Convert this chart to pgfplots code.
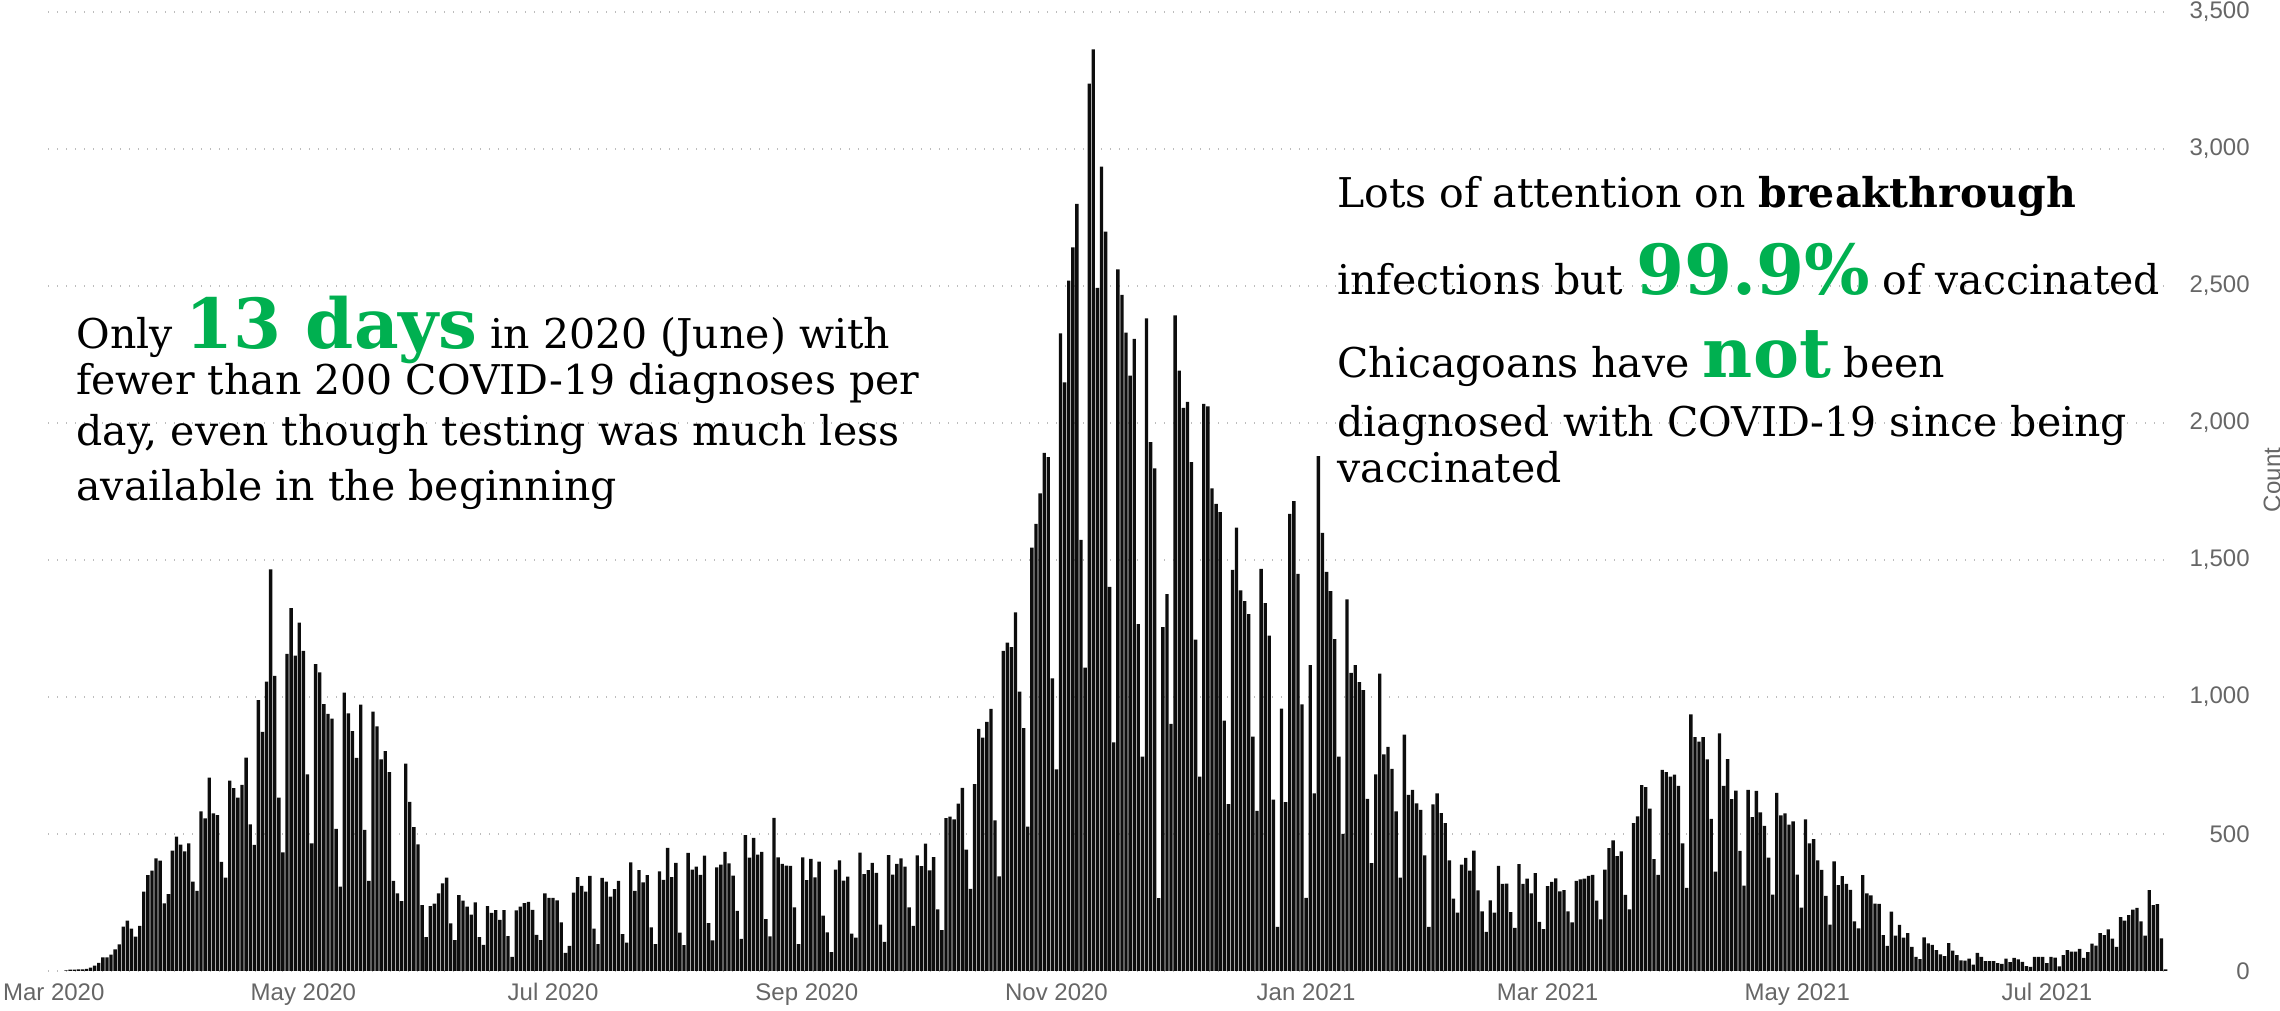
\documentclass[border=0pt]{standalone}
\usepackage{pgfplots}
\pgfplotsset{compat=1.18}
\usepackage{pgfplotstable}
\usepackage{fontspec}
\setmainfont{DejaVu Serif}
\newfontfamily\axisfont{Liberation Sans}
\definecolor{hlgreen}{HTML}{00B050}
\definecolor{tickgray}{HTML}{666666}
\definecolor{gridgray}{HTML}{BDBDBD}

% daily COVID-19 diagnoses, Chicago; first row = day 3 after 1 Mar 2020
% one line per week (Sunday first)
\pgfplotstableread[row sep=\\]{
n\\
2\\5\\5\\6\\
6\\8\\12\\20\\30\\50\\50\\
60\\79\\97\\162\\184\\155\\125\\
165\\290\\350\\366\\411\\403\\247\\
281\\439\\490\\461\\437\\466\\326\\
292\\583\\557\\706\\575\\569\\398\\
341\\695\\667\\633\\679\\779\\535\\
460\\989\\873\\1056\\1466\\1077\\633\\
433\\1157\\1324\\1151\\1271\\1168\\718\\
466\\1120\\1090\\974\\938\\921\\519\\
308\\1016\\940\\875\\778\\972\\515\\
329\\947\\893\\772\\802\\726\\329\\
283\\255\\757\\617\\525\\462\\240\\
124\\237\\246\\283\\320\\341\\174\\
113\\277\\257\\235\\206\\250\\124\\
95\\237\\212\\222\\187\\222\\127\\
52\\221\\235\\248\\252\\223\\132\\
113\\283\\267\\267\\258\\177\\66\\
92\\286\\343\\311\\290\\347\\155\\
98\\340\\326\\271\\299\\329\\135\\
104\\396\\292\\368\\323\\350\\159\\
98\\364\\333\\449\\343\\395\\140\\
94\\431\\370\\381\\351\\421\\175\\
112\\378\\388\\435\\393\\348\\219\\
117\\496\\414\\486\\425\\435\\189\\
126\\559\\415\\391\\385\\384\\232\\
98\\415\\332\\409\\342\\399\\202\\
141\\69\\370\\404\\330\\344\\136\\
122\\432\\354\\368\\395\\358\\169\\
106\\423\\352\\391\\411\\381\\232\\
165\\422\\383\\465\\367\\416\\225\\
149\\558\\563\\553\\611\\668\\443\\
300\\682\\884\\852\\909\\957\\550\\
345\\1168\\1198\\1182\\1309\\1020\\886\\
527\\1545\\1632\\1743\\1891\\1875\\1068\\
736\\2327\\2148\\2520\\2641\\2800\\1573\\
1107\\3239\\3364\\2493\\2936\\2698\\1402\\
834\\2561\\2468\\2330\\2173\\2307\\1266\\
782\\2382\\1930\\1834\\266\\1255\\1375\\
902\\2393\\2191\\2055\\2077\\1857\\1209\\
709\\2070\\2061\\1761\\1705\\1675\\914\\
609\\1464\\1618\\1389\\1350\\1302\\855\\
584\\1468\\1343\\1224\\625\\161\\958\\
616\\1668\\1715\\1449\\973\\267\\1116\\
648\\1879\\1599\\1457\\1386\\1211\\782\\
500\\1356\\1088\\1116\\1054\\1025\\628\\
394\\718\\1085\\791\\818\\738\\583\\
341\\863\\643\\661\\612\\588\\422\\
161\\608\\648\\576\\540\\404\\264\\
213\\388\\413\\366\\439\\294\\218\\
143\\258\\213\\384\\318\\319\\215\\
157\\390\\318\\337\\283\\357\\179\\
153\\310\\325\\338\\291\\295\\218\\
177\\329\\334\\337\\347\\351\\257\\
188\\370\\448\\477\\419\\437\\278\\
225\\540\\564\\678\\671\\593\\408\\
351\\734\\726\\709\\717\\676\\466\\
303\\937\\854\\837\\854\\772\\555\\
363\\867\\676\\773\\627\\658\\438\\
312\\661\\562\\657\\579\\530\\414\\
279\\650\\568\\575\\534\\546\\352\\
231\\553\\466\\481\\404\\369\\274\\
169\\400\\313\\346\\318\\296\\181\\
156\\350\\283\\276\\246\\245\\131\\
92\\217\\129\\168\\122\\138\\88\\
52\\43\\123\\101\\95\\76\\61\\
54\\102\\74\\58\\39\\38\\45\\
23\\66\\52\\36\\36\\36\\29\\
26\\45\\32\\48\\42\\33\\18\\
15\\52\\52\\52\\29\\52\\49\\
17\\58\\76\\71\\71\\81\\48\\
69\\100\\93\\138\\131\\152\\118\\
88\\197\\184\\204\\224\\230\\181\\
129\\295\\240\\244\\119\\6\\
}\cases

\newcommand\hl[1]{{\fontsize{34.5}{34.5}\selectfont\bfseries\color{hlgreen}#1}}

\begin{document}
\begin{tikzpicture}[x=0.5pt,y=0.5pt]
\useasboundingbox (0,0) rectangle (2280,1011);
\begin{axis}[
  at={(24pt,20pt)}, anchor=south west,
  scale only axis, width=1060pt, height=479.5pt,
  xmin=-1.4, xmax=516.6, ymin=0, ymax=3500,
  axis line style={draw=none},
  major tick length=0pt,
  scaled y ticks=false,
  ytick={0,500,...,3500},
  ymajorgrids,
  grid style={draw=gridgray, line width=0.9pt, dash pattern=on 0.7pt off 3.8pt},
  yticklabel pos=right,
  /pgf/number format/1000 sep={,},
  /pgf/number format/assume math mode=true,
  yticklabel style={anchor=east, xshift=41pt, inner sep=0pt,
    font=\axisfont\fontsize{12}{14}\selectfont, text=tickgray},
  xtick={0,61,122,184,245,306,365,426,487},
  xticklabels={Mar 2020,May 2020,Jul 2020,Sep 2020,Nov 2020,Jan 2021,Mar 2021,May 2021,Jul 2021},
  xticklabel style={anchor=north, yshift=-6pt, inner sep=0pt,
    font=\axisfont\fontsize{12}{14}\selectfont, text=tickgray},
]
\addplot[ybar, bar width=0.82, fill=black!95, draw=none]
  table[x expr=\coordindex+3, y=n] {\cases};
\end{axis}

\node[rotate=90, text=tickgray, font=\axisfont\fontsize{12}{14}\selectfont]
  at (2272,531) {Count};

% bottoms of the cut-off slide title
\node[anchor=base, inner sep=0pt, font=\axisfont\bfseries\fontsize{45}{45}\selectfont]
  at (491,1032) {g};
\node[anchor=base west, inner sep=0pt, font=\axisfont\bfseries\fontsize{45}{45}\selectfont]
  at (1319,1035) {p};

\begin{scope}[every node/.style={anchor=base west, inner sep=0pt,
    font=\fontsize{20.5}{24}\selectfont}]
\node at (76,662) {Only \hl{13 days} in 2020 (June) with};
\node at (76,616) {fewer than 200 COVID-19 diagnoses per};
\node at (76,565) {day, even though testing was much less};
\node at (76,510) {available in the beginning};

\node at (1337,803) {Lots of attention on \textbf{breakthrough}};
\node at (1337,716) {infections but \hl{99.9\%} of vaccinated};
\node at (1337,633) {Chicagoans have \hl{not} been};
\node at (1337,574) {diagnosed with COVID-19 since being};
\node at (1337,528) {vaccinated};
\end{scope}
\end{tikzpicture}
\end{document}
